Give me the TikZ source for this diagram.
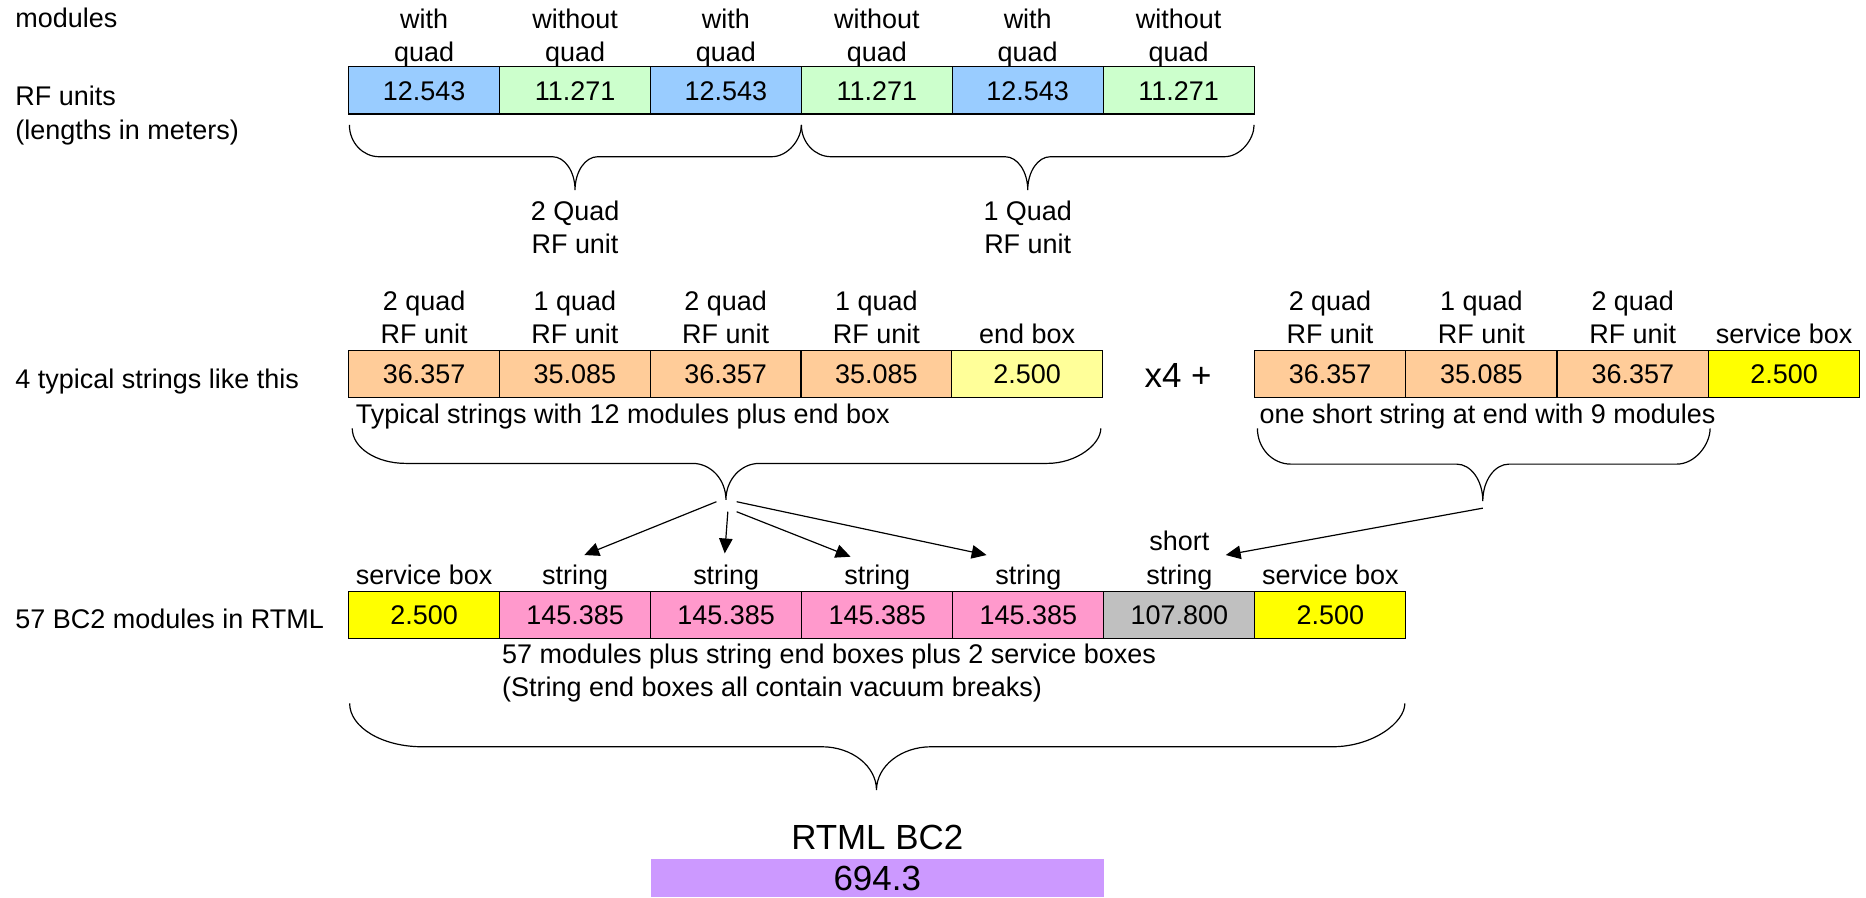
\documentclass[tikz,border=0pt]{standalone}
\usepackage{fontspec}
\setmainfont{Liberation Sans}
\usetikzlibrary{arrows.meta}

\definecolor{quadblue}{HTML}{99CCFF}
\definecolor{plaingreen}{HTML}{CCFFCC}
\definecolor{rforange}{HTML}{FFCC99}
\definecolor{endyellow}{HTML}{FFFF99}
\definecolor{svcyellow}{HTML}{FFFF00}
\definecolor{strpink}{HTML}{FF99CC}
\definecolor{shortgray}{HTML}{C0C0C0}
\definecolor{totalpurple}{HTML}{CC99FF}

% two centred lines; the baseline is that of the lower line
\newcommand\stackedlines[2]{\vbox{\halign{\hfil##\hfil\cr#1\cr#2\cr}}}
% two left-aligned lines; the baseline is that of the lower line
\newcommand\leftlines[2]{\vbox{\halign{##\hfil\cr#1\cr#2\cr}}}

% curly brace: x1, x2, x of tip, y top, y of the flat part, y of tip, end radius, tip radius
\newcommand\curlybrace[8]{%
  \draw[bracestroke] (#1,#4)
    .. controls (#1,{#4+0.552*(#5-#4)}) and ({#1+#7-0.552*#7},#5) .. ({#1+#7},#5)
    -- ({#3-#8},#5)
    .. controls ({#3-#8+0.552*#8},#5) and (#3,{#6-0.552*(#6-#5)}) .. (#3,#6)
    .. controls (#3,{#6-0.552*(#6-#5)}) and ({#3+#8-0.552*#8},#5) .. ({#3+#8},#5)
    -- ({#2-#7},#5)
    .. controls ({#2-#7+0.552*#7},#5) and (#2,{#5-0.552*(#5-#4)}) .. (#2,#4);}

\tikzset{
  txt/.style={inner sep=0pt, outer sep=0pt, font=\fontsize{13.6}{16.8}\selectfont},
  bigtxt/.style={inner sep=0pt, outer sep=0pt, font=\fontsize{17.6}{21}\selectfont},
  cell/.style={draw=black, line width=0.6pt, inner sep=0pt, outer sep=0pt,
    minimum width=76.1pt, minimum height=23.8pt, text height=9.74pt, text depth=0pt,
    font=\fontsize{13.6}{16.8}\selectfont},
  widecell/.style={cell, minimum width=76.3pt},
  bracestroke/.style={line width=0.6pt, black},
  conn/.style={line width=0.6pt, -{Triangle[length=7.5pt,width=6.8pt]}},
}

\begin{document}
\begin{tikzpicture}[x=0.6pt, y=-0.6pt]
\useasboundingbox (0,0) rectangle (1568,754);

% row captions
\node[txt, anchor=base west] (lmod) at (13,23.5) {modules};
\node[txt, anchor=base west] (lrf) at (13,117) {\leftlines{RF units}{(lengths in meters)}};
\node[txt, anchor=base west] (lstr) at (13,326.3) {4 typical strings like this};
\node[txt, anchor=base west] (lbc) at (13,528.5) {57 BC2 modules in RTML};

% ---- modules forming the RF units ----
\node[txt, anchor=base] (h11) at (356.4,51.8) {\stackedlines{with}{quad}};
\node[txt, anchor=base] (h12) at (483.2,51.8) {\stackedlines{without}{quad}};
\node[txt, anchor=base] (h13) at (610.0,51.8) {\stackedlines{with}{quad}};
\node[txt, anchor=base] (h14) at (736.8,51.8) {\stackedlines{without}{quad}};
\node[txt, anchor=base] (h15) at (863.6,51.8) {\stackedlines{with}{quad}};
\node[txt, anchor=base] (h16) at (990.4,51.8) {\stackedlines{without}{quad}};

\node[cell, fill=quadblue]   (m1) at (356.4,76) {12.543};
\node[cell, fill=plaingreen] (m2) at (483.2,76) {11.271};
\node[cell, fill=quadblue]   (m3) at (610.0,76) {12.543};
\node[cell, fill=plaingreen] (m4) at (736.8,76) {11.271};
\node[cell, fill=quadblue]   (m5) at (863.6,76) {12.543};
\node[cell, fill=plaingreen] (m6) at (990.4,76) {11.271};

\curlybrace{293.6}{673.4}{483.2}{105}{131.7}{159.7}{25}{19}
\curlybrace{673.4}{1053.8}{863.6}{105}{131.7}{159.7}{25}{19}
\node[txt, anchor=base] (u2) at (483.2,212.9) {\stackedlines{2 Quad}{RF unit}};
\node[txt, anchor=base] (u1) at (863.6,212.9) {\stackedlines{1 Quad}{RF unit}};

% ---- typical string ----
\node[txt, anchor=base] (h21) at (356.35,288.5) {\stackedlines{2 quad}{RF unit}};
\node[txt, anchor=base] (h22) at (483.05,288.5) {\stackedlines{1 quad}{RF unit}};
\node[txt, anchor=base] (h23) at (609.75,288.5) {\stackedlines{2 quad}{RF unit}};
\node[txt, anchor=base] (h24) at (736.45,288.5) {\stackedlines{1 quad}{RF unit}};
\node[txt, anchor=base] (h25) at (863.15,288.5) {end box};

\node[cell, fill=rforange]  (t1) at (356.35,314.3) {36.357};
\node[cell, fill=rforange]  (t2) at (483.05,314.3) {35.085};
\node[cell, fill=rforange]  (t3) at (609.75,314.3) {36.357};
\node[cell, fill=rforange]  (t4) at (736.45,314.3) {35.085};
\node[cell, fill=endyellow] (t5) at (863.15,314.3) {2.500};
\node[txt, anchor=base west] (tnote) at (299,355.7) {Typical strings with 12 modules plus end box};

\node[bigtxt, anchor=base] (times) at (990,326) {x4 +};

% ---- short string ----
\node[txt, anchor=base] (h31) at (1117.6,288.5) {\stackedlines{2 quad}{RF unit}};
\node[txt, anchor=base] (h32) at (1244.8,288.5) {\stackedlines{1 quad}{RF unit}};
\node[txt, anchor=base] (h33) at (1372.0,288.5) {\stackedlines{2 quad}{RF unit}};
\node[txt, anchor=base] (h34) at (1499.2,288.5) {service box};

\node[widecell, fill=rforange]  (s1) at (1117.6,314.3) {36.357};
\node[widecell, fill=rforange]  (s2) at (1244.8,314.3) {35.085};
\node[widecell, fill=rforange]  (s3) at (1372.0,314.3) {36.357};
\node[widecell, fill=svcyellow] (s4) at (1499.2,314.3) {2.500};
\node[txt, anchor=base west] (snote) at (1058.4,355.7) {one short string at end with 9 modules};

\curlybrace{296}{925}{610}{360}{389.4}{420}{45}{28}
\curlybrace{1056.6}{1437}{1246}{360}{390}{421}{28}{22}

% ---- BC2 line ----
\node[txt, anchor=base] (h41) at (356.45,490.8) {service box};
\node[txt, anchor=base] (h42) at (483.35,490.8) {string};
\node[txt, anchor=base] (h43) at (610.25,490.8) {string};
\node[txt, anchor=base] (h44) at (737.15,490.8) {string};
\node[txt, anchor=base] (h45) at (864.05,490.8) {string};
\node[txt, anchor=base] (h46) at (990.95,490.8) {\stackedlines{short}{string}};
\node[txt, anchor=base] (h47) at (1117.85,490.8) {service box};

\node[cell, fill=svcyellow] (b1) at (356.45,516.8) {2.500};
\node[cell, fill=strpink]   (b2) at (483.35,516.8) {145.385};
\node[cell, fill=strpink]   (b3) at (610.25,516.8) {145.385};
\node[cell, fill=strpink]   (b4) at (737.15,516.8) {145.385};
\node[cell, fill=strpink]   (b5) at (864.05,516.8) {145.385};
\node[cell, fill=shortgray] (b6) at (990.95,516.8) {107.800};
\node[cell, fill=svcyellow] (b7) at (1117.85,516.8) {2.500};
\node[txt, anchor=base west] (bnote) at (422,585.5)
  {\leftlines{57 modules plus string end boxes plus 2 service boxes}{(String end boxes all contain vacuum breaks)}};

% strings feeding the BC2 line
\coordinate (o1) at (602,421.6);   \coordinate (e1) at (491,466.4);
\coordinate (o2) at (611.6,430);   \coordinate (e2) at (609,465);
\coordinate (o3) at (619,430);     \coordinate (e3) at (714.7,467.8);
\coordinate (o4) at (619,421.6);   \coordinate (e4) at (829,466.4);
\coordinate (o5) at (1246,427);    \coordinate (e5) at (1030,466.4);
\draw[conn] (o1) -- (e1);
\draw[conn] (o2) -- (e2);
\draw[conn] (o3) -- (e3);
\draw[conn] (o4) -- (e4);
\draw[conn] (o5) -- (e5);

\curlybrace{293.8}{1180.5}{736.5}{591}{627.5}{664}{61}{46}

% ---- total ----
\node[bigtxt, anchor=base] (total) at (737.15,713.7) {RTML BC2};
\node[fill=totalpurple, inner sep=0pt, minimum width=228.4pt, minimum height=19.2pt,
  text height=12.6pt, text depth=0pt, font=\fontsize{17.6}{21}\selectfont] (len) at (737.15,738) {694.3};
\end{tikzpicture}
\end{document}
